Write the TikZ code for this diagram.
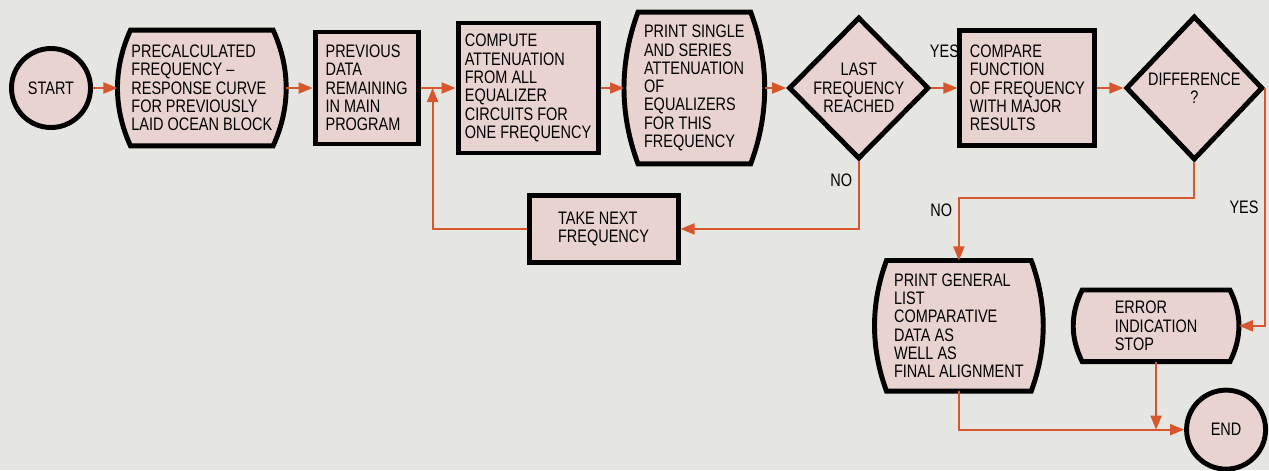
\documentclass[tikz,border=0pt]{standalone}
\usepackage{fontspec}
\setmainfont{Liberation Sans}[FakeStretch=0.8]
\usetikzlibrary{
  shapes.geometric,
  arrows.meta,
  positioning, calc,
  backgrounds
}
\definecolor{paper}{RGB}{229,229,226}
\definecolor{boxpink}{RGB}{233,211,208}
\definecolor{flowred}{RGB}{214,86,46}
\newcommand{\flowfont}{\fontsize{10.3}{10.4}\selectfont}
% barrel outline (print boxes): node name, side inset
\newcommand{\barrel}[2]{%
  \filldraw[barrelline]
    ($(#1.north west)+(#2,0)$) -- ($(#1.north east)+(-#2,0)$)
    .. controls ($(#1.north east)!0.33!(#1.south east)+(#2/3,0)$)
       and ($(#1.north east)!0.67!(#1.south east)+(#2/3,0)$) .. ($(#1.south east)+(-#2,0)$)
    -- ($(#1.south west)+(#2,0)$)
    .. controls ($(#1.south west)!0.33!(#1.north west)+(-#2/3,0)$)
       and ($(#1.south west)!0.67!(#1.north west)+(-#2/3,0)$) .. cycle;}
\tikzset{
  basebox/.style={align=left,font=\flowfont,inner sep=0pt},
  procbox/.style={basebox,rectangle,draw=black,line width=2.8pt,fill=boxpink},
  printbox/.style={basebox,rectangle},
  barrelline/.style={draw=black,line width=2.8pt,fill=boxpink},
  termnode/.style={basebox,circle,draw=black,line width=2.8pt,fill=boxpink,align=center,minimum size=1.58cm},
  decnode/.style={basebox,diamond,draw=black,line width=2.8pt,fill=boxpink,align=center,aspect=1},
  flowarr/.style={-{Triangle[length=0.28cm,width=0.22cm]},color=flowred,line width=1.1pt},
  lbl/.style={font=\flowfont,text=black,inner sep=1pt}
}

\begin{document}
\begin{tikzpicture}[node distance=0.5cm and 0.6cm]
  \useasboundingbox (0,0) rectangle (25.38,-9.4);
  \begin{pgfonlayer}{background}
    \fill[paper] (0,0) rectangle (25.38,-9.4);
  \end{pgfonlayer}

  \node[termnode] (startc) at (1.02,-1.76) {START};
  \node[printbox,right=0.49cm of startc,minimum width=3.36cm,minimum height=2.3cm] (precalc)
    {PRECALCULATED\\FREQUENCY --\\RESPONSE CURVE\\FOR PREVIOUSLY\\LAID OCEAN BLOCK};
  \node[procbox,right=0.53cm of precalc,minimum width=2.06cm,minimum height=2.24cm] (prevdata)
    {PREVIOUS\\DATA\\REMAINING\\IN MAIN\\PROGRAM};
  \node[procbox,right=0.7cm of prevdata,minimum width=2.8cm,minimum height=2.6cm] (compute)
    {COMPUTE\\ATTENUATION\\FROM ALL\\EQUALIZER\\CIRCUITS FOR\\ONE FREQUENCY};
  \node[printbox,right=0.47cm of compute,minimum width=2.8cm,minimum height=3.02cm] (printsingle)
    {PRINT SINGLE\\AND SERIES\\ATTENUATION\\OF\\EQUALIZERS\\FOR THIS\\FREQUENCY};
  \node[decnode,right=0.43cm of printsingle,minimum width=2.7cm,minimum height=2.84cm] (lastfreq)
    {LAST\\FREQUENCY\\REACHED};
  \node[procbox,right=0.52cm of lastfreq,minimum width=2.7cm,minimum height=2.3cm] (compare)
    {COMPARE\\FUNCTION\\OF FREQUENCY\\WITH MAJOR\\RESULTS};
  \node[decnode,right=0.52cm of compare,minimum width=2.74cm,minimum height=2.88cm] (diffq)
    {DIFFERENCE\\?};

  \node[procbox,below=0.75cm of compute,xshift=1.51cm,minimum width=2.98cm,minimum height=1.34cm] (takenext)
    {TAKE NEXT\\FREQUENCY};
  \node[printbox,below=2.25cm of compare,xshift=-1.37cm,minimum width=3.36cm,minimum height=2.6cm] (printgeneral)
    {PRINT GENERAL\\LIST\\COMPARATIVE\\DATA AS\\WELL AS\\FINAL ALIGNMENT};
  \node[printbox,right=0.6cm of printgeneral,minimum width=3.3cm,minimum height=1.42cm] (errorstop)
    {ERROR\\INDICATION\\STOP};
  \node[termnode,below=0.52cm of errorstop,xshift=1.4cm] (endc) {END};

  \coordinate[right=0.24cm of prevdata] (join);

  \begin{pgfonlayer}{background}
    \barrel{precalc}{0.26}
    \barrel{printsingle}{0.28}
    \barrel{printgeneral}{0.24}
    \barrel{errorstop}{0.18}
  \end{pgfonlayer}

  \draw[flowarr] (startc) -- (precalc);
  \draw[flowarr] (precalc) -- (prevdata);
  \draw[flowarr] (prevdata) -- (compute);
  \draw[flowarr] (compute) -- (printsingle);
  \draw[flowarr] (printsingle) -- (lastfreq);
  \draw[flowarr] (lastfreq) -- (compare) node[midway,above=0.55cm,lbl] {YES};
  \draw[flowarr] (compare) -- (diffq);
  \draw[flowarr] (lastfreq.south) |- (takenext.east) node[pos=0.14,left=0.08cm,lbl] {NO};
  \draw[flowarr] (takenext.west) -| (join);
  \draw[flowarr] (diffq.south) -- ++(0,-0.71) -| (printgeneral.north) node[pos=0.6,left=0.08cm,lbl] {NO};
  \draw[flowarr] (diffq.east) |- (errorstop.east) node[pos=0.25,left=0.08cm,lbl] {YES};
  \draw[flowarr] (printgeneral.south) |- (endc.west);
  \draw[flowarr] (errorstop.south) -- (errorstop.south |- endc.west);
\end{tikzpicture}
\end{document}
